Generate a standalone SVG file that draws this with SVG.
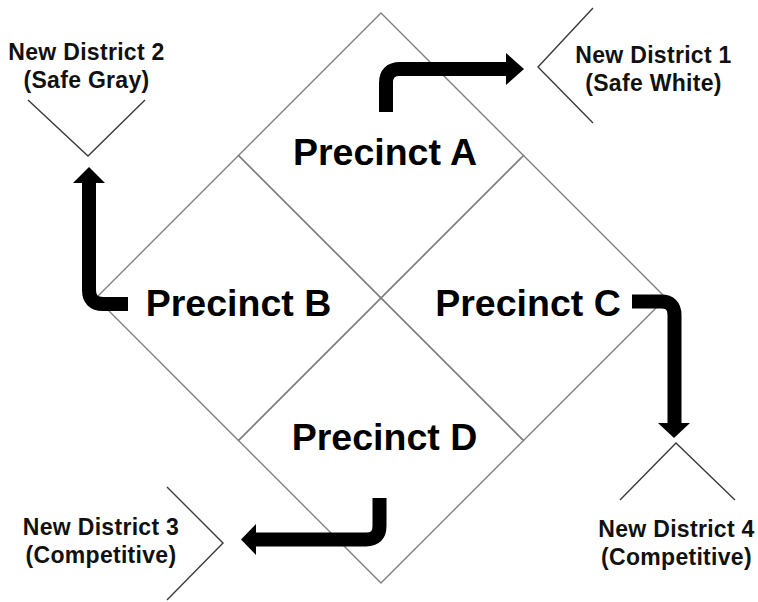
<svg xmlns="http://www.w3.org/2000/svg" width="758" height="602" viewBox="0 0 758 602">
  <style>
    .cell { fill: none; stroke: #808080; stroke-width: 1.4; }
    .caret { fill: none; stroke: #3a3a3a; stroke-width: 1.4; }
    .ptext { font-family: "Liberation Sans", Arial, sans-serif; font-weight: bold; font-size: 37.5px; fill: #000; text-anchor: middle; }
    .dtext { font-family: "Liberation Sans", Arial, sans-serif; font-weight: bold; font-size: 23px; letter-spacing: 0.3px; fill: #111; text-anchor: middle; }
    .shaft { fill: none; stroke: #000; stroke-width: 14; }
    .head { fill: #000; stroke: none; }
  </style>
  <rect width="758" height="602" fill="#fff"/>

  <g id="precinct-a">
    <polygon class="cell" points="381,13 523.5,155.5 381,298 238.5,155.5"/>
    <text class="ptext" x="385" y="165">Precinct A</text>
  </g>
  <g id="precinct-b">
    <polygon class="cell" points="238.5,155.5 381,298 238.5,440.5 96,298"/>
    <text class="ptext" x="238.5" y="316">Precinct B</text>
  </g>
  <g id="precinct-c">
    <polygon class="cell" points="523.5,155.5 666,298 523.5,440.5 381,298"/>
    <text class="ptext" x="528" y="316">Precinct C</text>
  </g>
  <g id="precinct-d">
    <polygon class="cell" points="381,298 523.5,440.5 381,583 238.5,440.5"/>
    <text class="ptext" x="384.5" y="450">Precinct D</text>
  </g>

  <g id="district-1">
    <polyline class="caret" points="593,8 538,67 593,123"/>
    <text class="dtext" x="653.5" y="63">New District 1</text>
    <text class="dtext" x="653.5" y="91">(Safe White)</text>
  </g>
  <g id="district-2">
    <polyline class="caret" points="28,100 88,156 145,100"/>
    <text class="dtext" x="86.5" y="60">New District 2</text>
    <text class="dtext" x="86.5" y="88">(Safe Gray)</text>
  </g>
  <g id="district-3">
    <polyline class="caret" points="167,487 223,543 167,600"/>
    <text class="dtext" x="101" y="535">New District 3</text>
    <text class="dtext" x="101" y="563">(Competitive)</text>
  </g>
  <g id="district-4">
    <polyline class="caret" points="620,500 676,443 735,500"/>
    <text class="dtext" x="676.5" y="537">New District 4</text>
    <text class="dtext" x="676.5" y="565">(Competitive)</text>
  </g>

  <g id="connectors">
    <path class="shaft" d="M386,112 V83 Q386,69 400,69 H507"/>
    <polygon class="head" points="506,53 524,69 506,85"/>

    <path class="shaft" d="M128,304 H103 Q89,304 89,290 V182"/>
    <polygon class="head" points="73,183 89,167 105,183"/>

    <path class="shaft" d="M632,301.5 H661 Q674.5,301.5 674.5,315 V424"/>
    <polygon class="head" points="658,423 690,423 674,438"/>

    <path class="shaft" d="M379.5,498 V526 Q379.5,539.5 366,539.5 H254"/>
    <polygon class="head" points="256,524 241,539.5 256,555"/>
  </g>
</svg>
